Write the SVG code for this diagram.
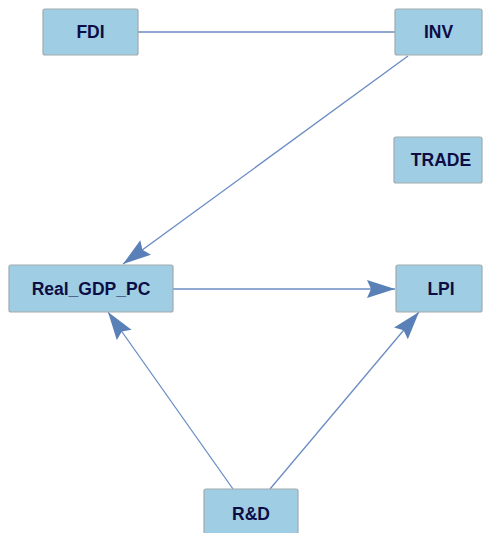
<svg xmlns="http://www.w3.org/2000/svg" width="483" height="533" viewBox="0 0 483 533">
<defs>
<marker id="arr" markerWidth="30" markerHeight="20" refX="28" refY="10" orient="auto" markerUnits="userSpaceOnUse">
<path d="M0,1 L28,10 L0,19 L4,10 Z" fill="#5a80b8"/>
</marker>
<style>
.node rect{fill:#9fcde4;stroke:#a3a9ad;stroke-width:1.2}
.node text{font-family:"Liberation Sans",Arial,sans-serif;font-weight:bold;font-size:17.5px;fill:#0d0d45;text-anchor:middle;dominant-baseline:central}
.edge{stroke:#6a8cc4;stroke-width:1.3;fill:none}
</style>
</defs>
<rect width="483" height="533" fill="#ffffff"/>
<g id="connectors">
<line class="edge" x1="138" y1="32" x2="395" y2="32"/>
<line class="edge" x1="408" y1="56" x2="123" y2="264" marker-end="url(#arr)"/>
<line class="edge" x1="173" y1="289" x2="395" y2="289" marker-end="url(#arr)"/>
<line class="edge" x1="233" y1="489" x2="108" y2="312" marker-end="url(#arr)"/>
<line class="edge" x1="270" y1="489" x2="419" y2="312" marker-end="url(#arr)"/>
</g>
<g id="FDI" class="node"><rect x="43" y="9" width="95" height="46" rx="2"/><text x="90.5" y="32">FDI</text></g>
<g id="INV" class="node"><rect x="395" y="9" width="87" height="46" rx="2"/><text x="438.5" y="32">INV</text></g>
<g id="TRADE" class="node"><rect x="394" y="137" width="88" height="46" rx="2"/><text x="441" y="160">TRADE</text></g>
<g id="Real_GDP_PC" class="node"><rect x="9" y="265" width="164" height="47" rx="2"/><text x="91" y="289">Real_GDP_PC</text></g>
<g id="LPI" class="node"><rect x="396" y="265" width="86" height="47" rx="2"/><text x="441" y="289">LPI</text></g>
<g id="RD" class="node"><rect x="204" y="489" width="94" height="50" rx="2"/><text x="251" y="514">R&amp;D</text></g>
</svg>
